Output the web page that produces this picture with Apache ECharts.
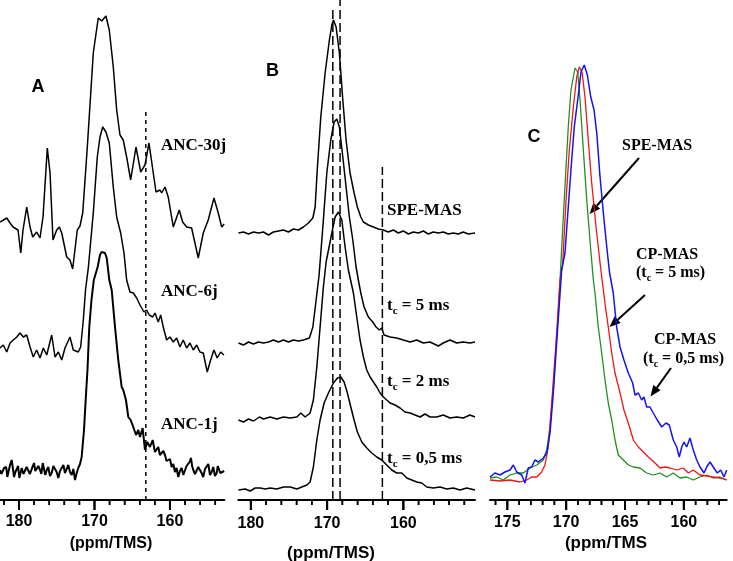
<!DOCTYPE html>
<html><head><meta charset="utf-8">
<script src="https://cdn.jsdelivr.net/npm/echarts@6/dist/echarts.min.js"></script>
<style>html,body{margin:0;padding:0;background:#fff}#c{width:733px;height:561px}</style>
</head><body><div id="c"></div>
<script>
// ---------- tick values ----------
const ticksA = [180, 170, 160];
const minorA = [182,178,176,174,172,168,166,164,162,158,156,154];
const ticksB = [180, 170, 160];
const minorB = [178,176,174,172,168,166,164,162,158,156,154,152];
const ticksC = [175, 170, 165, 160];
const minorC = [176,174,173,172,171,169,168,167,166,164,163,162,161,159,158,157];

// ---------- panel A spectra [ppm, intensity] ----------
const anc30j = [[182.52,3],[181.63,7],[181.19,2],[180.79,-2],[180.53,0],[180.13,-5],[179.77,-28],[179.47,-5],[178.98,18],[178.54,-2],[178.19,-12],[177.66,-7],[177.22,-13],[176.82,8],[176.25,77],[175.89,52],[175.50,-15],[175.01,-5],[174.66,-2],[174.34,-8],[173.68,-32],[173.25,-35],[172.89,-44],[172.28,-5],[171.92,-1],[171.56,12],[170.95,78],[170.16,172],[169.50,207],[169.05,204],[168.48,209],[168.04,195],[167.51,158],[167.06,115],[166.62,90],[166.19,85],[165.74,68],[165.21,45],[164.50,78],[163.88,53],[163.31,60],[162.78,82],[162.21,52],[161.85,33],[161.32,35],[161.10,32],[160.66,38],[160.23,28],[159.56,-2],[158.77,15],[158.32,3],[157.79,-2],[157.13,-3],[156.25,-33],[155.59,-8],[154.93,5],[154.17,27],[153.60,12],[153.15,-2],[152.82,1]];
const anc6j = [[182.52,0],[182.08,3],[181.63,-4],[181.19,5],[180.75,8],[180.30,11],[179.87,15],[179.43,11],[178.98,13],[178.54,1],[178.11,-9],[177.66,-2],[177.22,-10],[176.78,0],[176.33,-7],[175.67,13],[175.23,-9],[174.79,-4],[174.34,-12],[173.91,0],[173.25,11],[172.81,-2],[172.15,-4],[171.83,1],[171.48,28],[171.19,58],[170.82,80],[170.16,135],[169.63,191],[169.27,211],[168.91,221],[168.48,216],[168.04,205],[167.51,161],[167.06,131],[166.53,115],[166.09,95],[165.74,68],[165.30,56],[164.86,55],[164.41,50],[163.97,43],[163.44,36],[163.09,38],[162.74,33],[162.29,31],[161.99,35],[161.55,26],[161.23,33],[160.89,21],[160.44,8],[160.00,11],[159.56,6],[159.11,10],[158.68,1],[158.24,8],[157.79,0],[157.35,5],[156.91,-2],[156.46,3],[156.03,-4],[155.59,-5],[155.06,-24],[154.61,-12],[154.17,-2],[153.74,-10],[153.29,-4],[152.85,-7]];
const anc1j = [[182.52,0],[182.34,-4],[182.16,-5],[181.98,2],[181.85,0],[181.70,3],[181.55,-7],[181.37,-1],[181.19,5],[180.97,10],[180.82,2],[180.66,-7],[180.48,-2],[180.30,0],[180.12,4],[179.96,-8],[179.80,-3],[179.64,2],[179.42,-4],[179.21,-2],[178.99,3],[178.77,5],[178.55,-4],[178.32,-2],[178.17,4],[178.01,7],[177.84,-1],[177.66,-3],[177.44,4],[177.22,0],[177.04,-4],[176.86,7],[176.69,1],[176.52,-5],[176.32,0],[176.12,3],[175.90,-6],[175.67,-3],[175.45,4],[175.23,2],[175.01,-2],[174.79,-8],[174.57,-1],[174.34,0],[174.12,5],[173.91,-3],[173.69,1],[173.47,5],[173.25,-2],[173.02,-5],[172.80,1],[172.58,-10],[172.36,-3],[172.15,2],[171.92,6],[171.70,13],[171.39,40],[171.13,75],[170.93,100],[170.69,143],[170.40,170],[170.09,190],[169.58,203],[169.27,215],[169.07,218],[168.83,220],[168.61,217],[168.38,212],[168.04,190],[167.72,180],[167.28,143],[166.85,110],[166.40,83],[166.19,80],[165.83,70],[165.52,53],[165.21,50],[164.86,43],[164.50,35],[164.20,40],[163.97,33],[163.62,42],[163.31,20],[163.01,28],[162.65,23],[162.29,30],[161.99,18],[161.55,23],[161.33,15],[161.10,13],[160.88,19],[160.66,15],[160.45,9],[160.23,7],[160.00,11],[159.78,3],[159.56,6],[159.34,-2],[159.12,2],[158.90,-7],[158.68,-1],[158.45,2],[158.23,-5],[158.01,-3],[157.80,4],[157.58,3],[157.40,8],[157.22,12],[157.06,4],[156.91,0],[156.68,-4],[156.46,-5],[156.25,3],[156.03,2],[155.81,-3],[155.59,-7],[155.36,1],[155.14,0],[154.92,6],[154.70,-5],[154.48,-2],[154.26,3],[154.04,-6],[153.81,-3],[153.66,4],[153.51,5],[153.33,-3],[153.15,-2],[152.81,-1]];

// ---------- panel B spectra ----------
const speMas = [[181.63,0],[180.97,1],[180.31,-1],[179.66,1],[179.00,0],[178.35,1],[177.69,-2],[177.04,1],[176.38,2],[175.73,3],[175.07,1],[174.42,4],[173.76,3],[173.11,6],[172.45,10],[171.87,15],[171.57,26],[171.27,66],[170.83,116],[170.26,160],[169.70,193],[169.38,208],[169.17,213],[168.82,206],[168.39,180],[167.94,133],[167.51,93],[166.99,60],[166.46,40],[166.03,26],[165.58,16],[165.24,11],[164.59,8],[163.93,6],[163.28,4],[162.62,3],[161.97,1],[161.31,3],[160.66,0],[160.00,2],[159.34,-1],[158.69,1],[158.03,0],[157.38,2],[156.72,-1],[156.07,1],[155.41,0],[154.76,1],[154.10,-1],[153.45,0],[152.79,-1],[152.14,1],[151.48,-1],[150.60,0]];
const tc5 = [[181.63,0],[180.97,-2],[180.31,1],[179.66,-1],[179.00,1],[178.35,0],[177.69,1],[177.04,3],[176.38,1],[175.73,3],[175.07,1],[174.42,3],[173.76,2],[173.11,3],[172.32,5],[171.87,16],[171.44,43],[171.05,68],[170.49,123],[170.04,170],[169.52,203],[169.08,221],[168.73,224],[168.39,216],[167.94,186],[167.51,156],[167.08,126],[166.63,103],[166.20,76],[165.90,63],[165.58,50],[165.15,36],[164.59,26],[164.01,21],[163.58,16],[163.15,13],[162.83,15],[162.53,8],[161.74,6],[160.87,5],[160.00,3],[159.12,1],[158.24,3],[157.38,0],[156.50,1],[155.41,-3],[154.76,0],[153.88,3],[153.00,0],[152.14,1],[151.26,0],[150.60,1]];
const tc2 = [[181.63,-1],[180.97,-3],[180.31,0],[179.66,-2],[178.87,2],[178.35,0],[177.47,2],[176.59,0],[175.73,2],[174.85,1],[173.97,2],[173.45,6],[172.88,2],[172.23,6],[171.80,19],[171.35,52],[170.92,92],[170.49,132],[170.13,157],[169.38,186],[168.95,202],[168.52,207],[168.07,199],[167.64,172],[167.21,149],[166.55,126],[166.11,102],[165.68,79],[165.24,62],[164.80,49],[164.36,42],[163.93,37],[163.49,32],[163.05,26],[162.62,22],[162.18,19],[161.74,16],[161.09,14],[160.43,11],[159.78,7],[159.12,6],[158.47,4],[157.81,2],[157.16,5],[156.50,2],[155.62,2],[154.76,4],[153.88,1],[153.00,2],[152.14,1],[151.26,4],[150.60,2]];
const tc05 = [[181.63,-1],[180.75,0],[180.09,-2],[179.44,1],[178.78,1],[178.13,0],[177.47,1],[176.59,0],[175.73,2],[174.85,2],[173.97,0],[173.32,2],[172.66,4],[172.23,7],[171.80,22],[171.35,49],[170.92,69],[170.39,86],[169.83,96],[169.17,106],[168.65,111],[168.20,112],[167.77,107],[167.34,96],[166.89,82],[166.46,69],[166.03,57],[165.45,47],[164.80,41],[164.14,36],[163.49,32],[162.83,29],[162.18,24],[161.52,19],[160.87,16],[160.21,16],[159.55,11],[158.89,9],[158.24,7],[157.58,6],[156.93,2],[156.07,1],[155.19,2],[154.31,0],[153.45,1],[152.57,-1],[151.69,1],[150.60,-1]];

// ---------- panel C spectra ----------
const greenSpe = [[176.47,-1],[175.90,0],[175.34,-3],[174.77,2],[174.20,4],[173.64,4],[173.07,9],[172.50,12],[171.94,17],[171.65,27],[171.37,50],[171.09,90],[170.75,150],[170.52,197],[170.24,260],[170.01,310],[169.82,350],[169.59,387],[169.25,409],[169.02,405],[168.82,377],[168.54,327],[168.25,277],[167.91,227],[167.69,197],[167.55,184],[167.27,150],[166.98,124],[166.70,97],[166.42,74],[166.13,57],[165.85,37],[165.57,22],[165.14,17],[164.72,12],[164.29,10],[163.73,9],[163.16,4],[162.60,2],[162.03,4],[161.46,0],[160.90,4],[160.33,-1],[159.76,0],[159.20,-3],[158.63,0],[158.06,2],[157.50,-1],[156.93,0],[156.36,-3]];
const redCp5 = [[176.47,-3],[175.62,-4],[174.77,-3],[173.92,-5],[173.35,-3],[172.93,0],[172.50,0],[172.08,5],[171.80,12],[171.52,30],[171.23,74],[170.86,134],[170.52,197],[170.29,214],[170.01,277],[169.73,327],[169.39,370],[169.10,400],[168.88,410],[168.65,405],[168.40,380],[168.12,337],[167.83,294],[167.46,250],[167.12,214],[166.87,190],[166.66,170],[166.42,150],[166.13,124],[165.85,104],[165.42,84],[165.09,67],[164.72,54],[164.29,37],[163.87,30],[163.44,25],[163.02,20],[162.73,17],[162.45,14],[162.03,9],[161.60,10],[161.18,9],[160.61,7],[160.05,9],[159.62,4],[159.20,7],[158.63,2],[158.06,1],[157.50,0],[156.93,-1],[156.36,-3]];
const blueCp05 = [[176.47,0],[176.05,4],[175.62,2],[175.20,5],[174.77,7],[174.49,12],[174.20,5],[173.78,2],[173.50,-6],[173.22,9],[172.93,10],[172.65,17],[172.37,15],[171.94,19],[171.65,24],[171.37,44],[171.09,84],[170.75,144],[170.38,207],[170.10,224],[169.82,270],[169.53,317],[169.31,350],[169.02,377],[168.74,405],[168.46,412],[168.20,402],[167.91,380],[167.63,367],[167.40,344],[167.12,300],[166.84,264],[166.55,230],[166.32,205],[166.00,184],[165.71,150],[165.42,130],[165.09,117],[164.72,104],[164.35,94],[164.15,82],[163.87,84],[163.58,77],[163.39,80],[163.16,70],[162.88,70],[162.60,64],[162.26,57],[161.88,50],[161.52,54],[161.24,52],[160.90,37],[160.61,30],[160.39,20],[160.18,30],[159.99,35],[159.76,30],[159.48,39],[159.20,27],[158.91,17],[158.63,10],[158.29,4],[158.06,10],[157.78,15],[157.50,10],[157.16,4],[156.87,7],[156.59,0],[156.36,7]];

// ---------- reference (dashed) positions ----------
const dashA = [163.2];
const dashB = [169.25, 168.3, 162.75];

// ---------- layout helpers ----------
const SANS = '"Liberation Sans", Arial, sans-serif';
const SERIF = '"Liberation Serif", "Times New Roman", serif';

function trace(data, offset, xi, yi, color, width) {
  return {
    type: 'line', xAxisIndex: xi, yAxisIndex: yi, showSymbol: false, silent: true,
    data: data.map(p => [p[0], p[1] + offset]),
    lineStyle: { color: color, width: width }, itemStyle: { color: color }
  };
}
function vline(ppm, y0, y1, xi, yi, dash) {
  return {
    type: 'line', xAxisIndex: xi, yAxisIndex: yi, showSymbol: false, silent: true,
    data: [[ppm, y0], [ppm, y1]],
    lineStyle: { color: '#000', width: 1.5, type: dash }
  };
}
// tick marks as a custom series: drawn through the panel's own x scale, hanging below the axis line
function tickCustom(major, minor, i) {
  const data = major.map(v => [v, 10]).concat(minor.map(v => [v, 5]));
  return {
    type: 'custom', xAxisIndex: i, yAxisIndex: i, silent: true, clip: false, z: 50,
    data: data,
    renderItem: function (params, api) {
      const p = api.coord([api.value(0), 0]);
      const len = api.value(1);
      return {
        type: 'line',
        shape: { x1: p[0], y1: p[1], x2: p[0], y2: p[1] + len },
        style: { stroke: '#000', lineWidth: len > 6 ? 2 : 1.6 }
      };
    }
  };
}
function mainAxis(gi, min, max, ticks, margin) {
  return {
    gridIndex: gi, type: 'value', min: min, max: max, inverse: true, position: 'bottom',
    axisLine: { show: true, onZero: false, lineStyle: { color: '#000', width: 2 } },
    axisTick: { show: false },
    axisLabel: { customValues: ticks, color: '#000', fontSize: 16, fontWeight: 'bold', fontFamily: SANS, margin: margin },
    splitLine: { show: false }
  };
}
function txt(x, y, s, size, font, align) {
  return { type: 'text', x: x, y: y, style: { text: s, fill: '#000', font: 'bold ' + size + 'px ' + font, textAlign: align || 'left', textVerticalAlign: 'middle' } };
}
function tcLabel(x, y, pre, rest, size) {
  const els = []; let cx = x;
  if (pre) { els.push(txt(cx, y, pre, size, SERIF)); cx += 0.333 * size; }
  els.push(txt(cx, y, 't', size, SERIF)); cx += 0.333 * size;
  const ss = Math.round(size * 0.65);
  els.push(txt(cx, y + 5, 'c', ss, SERIF)); cx += 0.444 * ss;
  els.push(txt(cx, y, rest, size, SERIF));
  return els;
}
function arrow(x0, y0, x1, y1) {
  const dx = x1 - x0, dy = y1 - y0, L = Math.hypot(dx, dy);
  const ux = dx / L, uy = dy / L, nx = -uy, ny = ux, hl = 11, hw = 4.5;
  const bx = x1 - ux * hl, by = y1 - uy * hl;
  return [
    { type: 'line', shape: { x1: x0, y1: y0, x2: bx, y2: by }, style: { stroke: '#000', lineWidth: 2 } },
    { type: 'polygon', shape: { points: [[x1, y1], [bx + nx * hw, by + ny * hw], [bx - nx * hw, by - ny * hw]] }, style: { fill: '#000' } }
  ];
}

const series = [
  trace(anc30j, 275, 0, 0, '#000', 1.5),
  trace(anc6j, 152, 0, 0, '#000', 1.5),
  trace(anc1j, 30, 0, 0, '#000', 2),
  vline(dashA[0], 0, 392, 0, 0, [4, 4]),
  trace(speMas, 267, 1, 1, '#000', 1.5),
  trace(tc5, 157, 1, 1, '#000', 1.5),
  trace(tc2, 81, 1, 1, '#000', 1.5),
  trace(tc05, 11, 1, 1, '#000', 1.5),
  vline(dashB[0], 0, 493, 1, 1, [9, 4]),
  vline(dashB[1], 0, 500, 1, 1, [9, 4]),
  vline(dashB[2], 0, 333, 1, 1, [9, 4]),
  trace(greenSpe, 23, 2, 2, '#1f8f1f', 1.3),
  trace(redCp5, 23, 2, 2, '#f01414', 1.3),
  trace(blueCp05, 23, 2, 2, '#1414f0', 1.5),
  tickCustom(ticksA, minorA, 0),
  tickCustom(ticksB, minorB, 1),
  tickCustom(ticksC, minorC, 2)
];

const graphics = [
  txt(38, 87, 'A', 18, SANS, 'center'),
  txt(272.5, 71, 'B', 18, SANS, 'center'),
  txt(534, 137.5, 'C', 18, SANS, 'center'),
  txt(161, 146, 'ANC-30j', 17, SERIF),
  txt(161, 292, 'ANC-6j', 17, SERIF),
  txt(161, 425, 'ANC-1j', 17, SERIF),
  txt(387, 211, 'SPE-MAS', 17, SERIF),
  ...tcLabel(387, 306, '', ' = 5 ms', 17),
  ...tcLabel(387, 382, '', ' = 2 ms', 17),
  ...tcLabel(387, 459, '', ' = 0,5 ms', 17),
  txt(622, 146, 'SPE-MAS', 16, SERIF),
  txt(636, 255, 'CP-MAS', 16, SERIF),
  ...tcLabel(636, 273, '(', ' = 5 ms)', 16),
  txt(654, 340, 'CP-MAS', 16, SERIF),
  ...tcLabel(643, 359, '(', ' = 0,5 ms)', 16),
  ...arrow(639, 158, 589.5, 214),
  ...arrow(645, 295, 609.5, 327),
  ...arrow(671, 368, 650.5, 396.5),
  txt(111, 543.5, '(ppm/TMS)', 16, SANS, 'center'),
  txt(331, 553, '(ppm/TMS)', 17, SANS, 'center'),
  txt(606, 543.5, '(ppm/TMS', 17, SANS, 'center')
];

const G = { outerBoundsMode: 'none', containLabel: false };
const chart = echarts.init(document.getElementById('c'), null, { renderer: 'canvas' });
chart.setOption({
  animation: false,
  backgroundColor: '#fff',
  grid: [
    Object.assign({ left: 0, top: 0, width: 224.3, height: 500 }, G),
    Object.assign({ left: 238.3, top: 0, width: 236.7, height: 500 }, G),
    Object.assign({ left: 490, top: 0, width: 236.7, height: 500 }, G)
  ],
  xAxis: [
    mainAxis(0, 152.8, 182.52, ticksA, 14),
    mainAxis(1, 150.6, 181.65, ticksB, 16),
    mainAxis(2, 156.36, 176.47, ticksC, 15)
  ],
  yAxis: [
    { gridIndex: 0, type: 'value', min: 0, max: 500, show: false },
    { gridIndex: 1, type: 'value', min: 0, max: 500, show: false },
    { gridIndex: 2, type: 'value', min: 0, max: 500, show: false }
  ],
  series: series,
  graphic: graphics
});

// the same tick marks again as graphic lines placed through each panel's x scale (fallback)
const tickEls = [];
[[ticksA, minorA], [ticksB, minorB], [ticksC, minorC]].forEach(function (pair, i) {
  const y0 = chart.convertToPixel({ yAxisIndex: i }, 0);
  pair[0].forEach(function (v) {
    const x = chart.convertToPixel({ xAxisIndex: i }, v);
    if (isFinite(x) && isFinite(y0)) tickEls.push({ type: 'line', z: 100, shape: { x1: x, y1: y0, x2: x, y2: y0 + 10 }, style: { stroke: '#000', lineWidth: 2 } });
  });
  pair[1].forEach(function (v) {
    const x = chart.convertToPixel({ xAxisIndex: i }, v);
    if (isFinite(x) && isFinite(y0)) tickEls.push({ type: 'line', z: 100, shape: { x1: x, y1: y0, x2: x, y2: y0 + 5 }, style: { stroke: '#000', lineWidth: 1.6 } });
  });
});
chart.setOption({ graphic: graphics.concat(tickEls) });
</script></body></html>
